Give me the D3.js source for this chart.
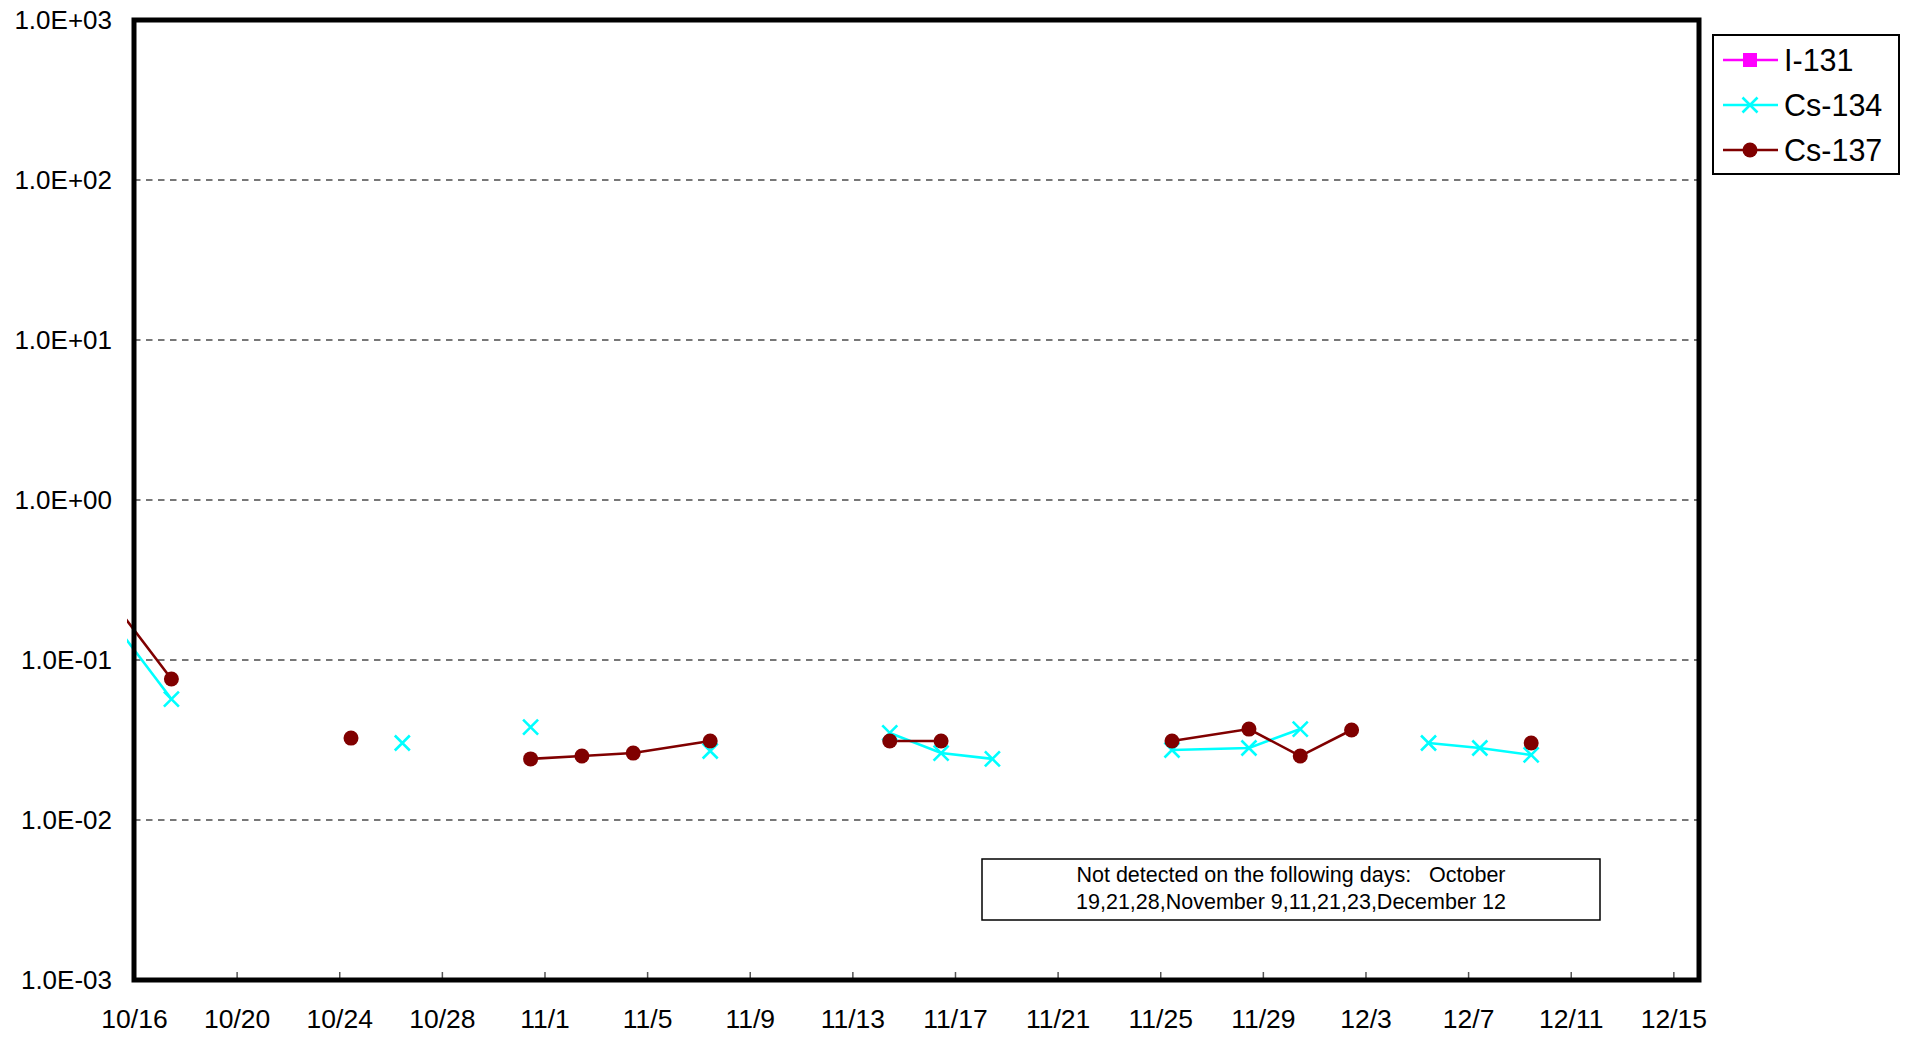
<!DOCTYPE html>
<html>
<head>
<meta charset="utf-8">
<script src="https://cdn.jsdelivr.net/npm/d3@7"></script>
<style>
  body { margin: 0; background: #fff; }
  text { font-family: Arial, "Liberation Sans", sans-serif; fill: #000; }
</style>
</head>
<body>
<svg id="chart"></svg>
<script>
// sampling days (2011), sampled around 11:00
const sampleDays = ["10/15", "10/17", "10/19", "10/21", "10/24", "10/26", "10/28", "10/31",
    "11/2", "11/4", "11/7", "11/9", "11/11", "11/14", "11/16", "11/18", "11/21", "11/23",
    "11/25", "11/28", "11/30", "12/2", "12/5", "12/7", "12/9", "12/12"];
const sampleTime = "11:00";

// null = not detected
const i131 = sampleDays.map(() => null);
const cs134 = [0.151, 0.057, null, null, null, 0.0303, null, 0.0381,
    null, null, 0.0270, null, null, 0.0350, 0.0262, 0.0241, null, null,
    0.0274, 0.0282, 0.0370, null, 0.0303, 0.0282, 0.0255, null];
const cs137 = [0.201, 0.076, null, null, 0.0325, null, null, 0.0241,
    0.0251, 0.0262, 0.0312, null, null, 0.0312, 0.0312, null, null, null,
    0.0312, 0.0370, 0.0251, 0.0365, null, null, 0.0303, null];

const seriesNames = ["I-131", "Cs-134", "Cs-137"];
const seriesValues = [i131, cs134, cs137];

const xStart = "2011/10/16";
const xEnd = "2011/12/16";
const xTickStep = 4;
const yDomain = [1e-3, 1e3];

const noteLines = ["Not detected on the following days:\u00a0\u00a0\u00a0October",
    "19,21,28,November 9,11,21,23,December 12"];

class LogChart {
    constructor(config) {
        this.config = {
            parent: config.parent,
            width: config.width || 1912,
            height: config.height || 1037,
            margin: config.margin || {top: 20, right: 213, bottom: 57, left: 134}
        };
        this.init();
    }

    init() {
        let self = this;
        const m = self.config.margin;

        self.svg = d3.select(self.config.parent)
            .attr('width', self.config.width)
            .attr('height', self.config.height);

        self.inner_width = self.config.width - m.left - m.right;
        self.inner_height = self.config.height - m.top - m.bottom;

        self.chart = self.svg.append('g')
            .attr('transform', `translate(${m.left}, ${m.top})`);

        const parseDay = d3.timeParse("%Y/%m/%d");
        self.parse = d3.timeParse("%Y/%m/%d %H:%M");

        self.xscale = d3.scaleTime()
            .domain([parseDay(xStart), parseDay(xEnd)])
            .range([0, self.inner_width]);

        self.yscale = d3.scaleLog()
            .domain(yDomain)
            .range([self.inner_height, 0]);

        self.chart.append("defs").append("clipPath")
            .attr("id", "clip")
            .append("rect")
            .attr("x", -7)
            .attr("width", self.inner_width + 7)
            .attr("height", self.inner_height);
    }

    render() {
        let self = this;
        const W = self.inner_width, H = self.inner_height;

        // grid lines
        const decades = d3.range(Math.log10(yDomain[0]), Math.log10(yDomain[1]) + 1).map(e => Math.pow(10, e));
        self.chart.append('g')
            .selectAll('line')
            .data(decades.slice(1, -1))
            .join('line')
            .attr('x1', 0)
            .attr('x2', W)
            .attr('y1', d => self.yscale(d))
            .attr('y2', d => self.yscale(d))
            .attr('stroke', '#777')
            .attr('stroke-width', 1.8)
            .attr('stroke-dasharray', '6.5,5.5');

        // y labels
        const fmt = d => {
            const e = Math.round(Math.log10(d));
            return "1.0E" + (e < 0 ? "-" : "+") + String(Math.abs(e)).padStart(2, "0");
        };
        self.chart.append('g')
            .selectAll('text')
            .data(decades)
            .join('text')
            .attr('x', -22)
            .attr('y', d => self.yscale(d))
            .attr('dy', '0.36em')
            .attr('text-anchor', 'end')
            .style('font-size', '26px')
            .text(fmt);

        // x ticks + labels
        const ticks = d3.range(0, 61, xTickStep).map(n => d3.timeDay.offset(self.xscale.domain()[0], n));
        const xaxis = d3.axisBottom(self.xscale)
            .tickValues(ticks)
            .tickSize(-8)
            .tickPadding(0)
            .tickFormat(d3.timeFormat("%-m/%-d"));
        const xg = self.chart.append('g')
            .attr('transform', `translate(0, ${H})`)
            .call(xaxis);
        xg.select('.domain').remove();
        xg.selectAll('.tick line').attr('stroke', '#555').attr('stroke-width', 1.5);
        xg.selectAll('.tick text')
            .attr('y', 48)
            .attr('dy', 0)
            .style('font-size', '26.5px')
            .style('font-family', 'Arial, "Liberation Sans", sans-serif')
            .attr('fill', '#000');

        // series
        const styles = [
            {color: '#FF00FF', marker: 'square'},
            {color: '#00FFFF', marker: 'cross'},
            {color: '#800000', marker: 'circle'}
        ];
        const times = sampleDays.map(s => self.parse("2011/" + s + " " + sampleTime));
        const line = d3.line()
            .defined(d => d.v != null)
            .x(d => self.xscale(d.t))
            .y(d => self.yscale(d.v));

        const plot = self.chart.append('g').attr('clip-path', 'url(#clip)');
        const x0 = self.xscale.domain()[0];

        seriesValues.forEach((vals, i) => {
            const st = styles[i];
            const pts = vals.map((v, j) => ({t: times[j], v: v}));
            plot.append('path')
                .datum(pts)
                .attr('d', line)
                .attr('fill', 'none')
                .attr('stroke', st.color)
                .attr('stroke-width', 2.6);
            const shown = pts.filter(d => d.v != null && d.t >= x0);
            drawMarkers(self.chart, shown.map(d => [self.xscale(d.t), self.yscale(d.v)]), st);
        });

        function drawMarkers(g, xy, st) {
            const mg = g.append('g');
            xy.forEach(([x, y]) => {
                if (st.marker === 'circle') {
                    mg.append('circle').attr('cx', x).attr('cy', y).attr('r', 7.5).attr('fill', st.color);
                } else if (st.marker === 'square') {
                    mg.append('rect').attr('x', x - 7).attr('y', y - 7)
                        .attr('width', 14).attr('height', 14).attr('fill', st.color);
                } else {
                    const s = 7.5;
                    mg.append('path')
                        .attr('d', `M${x - s},${y - s}L${x + s},${y + s}M${x - s},${y + s}L${x + s},${y - s}`)
                        .attr('stroke', st.color).attr('stroke-width', 2.6).attr('fill', 'none');
                }
            });
        }

        // plot border
        self.chart.append('rect')
            .attr('width', W)
            .attr('height', H)
            .attr('fill', 'none')
            .attr('stroke', '#000')
            .attr('stroke-width', 5);

        // note box
        const note = self.svg.append('g');
        note.append('rect')
            .attr('x', 982).attr('y', 859)
            .attr('width', 618).attr('height', 61)
            .attr('fill', '#fff').attr('stroke', '#000').attr('stroke-width', 1.5);
        note.selectAll('text')
            .data(noteLines)
            .join('text')
            .attr('x', 1291)
            .attr('y', (d, i) => 874 + i * 27)
            .attr('dy', '0.36em')
            .attr('text-anchor', 'middle')
            .style('font-size', '21.5px')
            .text(d => d);

        // legend
        const lg = self.svg.append('g');
        lg.append('rect')
            .attr('x', 1713).attr('y', 35)
            .attr('width', 186).attr('height', 139)
            .attr('fill', '#fff').attr('stroke', '#000').attr('stroke-width', 2);
        seriesNames.forEach((name, i) => {
            const y = 60 + i * 45;
            lg.append('line')
                .attr('x1', 1723).attr('x2', 1778)
                .attr('y1', y).attr('y2', y)
                .attr('stroke', styles[i].color).attr('stroke-width', 2.6);
            drawMarkers(lg, [[1750, y]], styles[i]);
            lg.append('text')
                .attr('x', 1784).attr('y', y)
                .attr('dy', '0.36em')
                .style('font-size', '30.5px')
                .text(name);
        });
    }
}

const chart = new LogChart({parent: '#chart', width: 1912, height: 1037});
chart.render();
</script>
</body>
</html>
